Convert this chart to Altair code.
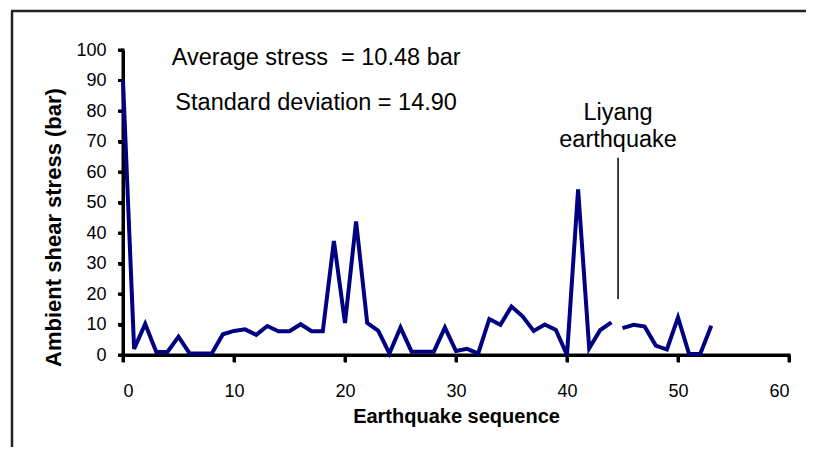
import altair as alt
import pandas as pd

# ---- data ----
sequence = list(range(54))
stress = [90, 2, 10.2, 1, 1, 6, 0.5, 0.5, 0.5, 6.8,
          7.9, 8.4, 6.6, 9.5, 7.8, 7.8, 10.1, 7.8, 7.8, 37.4,
          10.5, 43.8, 10.5, 7.9, 0.5, 9, 1.1, 1.1, 1.1, 9,
          1.3, 2, 0.5, 11.8, 9.9, 15.9, 12.7, 7.9, 10, 8.2,
          0, 54.3, 2.2, 8.2, 10.7, 8.8, 9.9, 9.3, 3.1, 1.8,
          12.3, 0.3, 0.3, 9.6]
segment = ["before" if s <= 44 else "after" for s in sequence]

x_ticks = [0, 10, 20, 30, 40, 50, 60]
y_ticks = [0, 10, 20, 30, 40, 50, 60, 70, 80, 90, 100]

stats_text = ["Average stress\u00a0\u00a0= 10.48 bar", "Standard deviation = 14.90"]
stats_x = [17.4, 17.4]
stats_y = [97.4, 82.6]

liyang_text = ["Liyang", "earthquake"]
liyang_tx = [44.6, 44.6]
liyang_ty = [79.5, 70.5]
liyang_line_x = [44.6]
liyang_line_y1 = [18.4]
liyang_line_y2 = [64.7]

FONT = "Liberation Sans"
W, H = 666, 305

df = pd.DataFrame({"seq": sequence, "stress": stress, "segment": segment})
df_stats = pd.DataFrame({"x": stats_x, "y": stats_y, "t": stats_text})
df_liy = pd.DataFrame({"x": liyang_tx, "y": liyang_ty, "t": liyang_text})
df_lline = pd.DataFrame({"x": liyang_line_x, "y1": liyang_line_y1, "y2": liyang_line_y2})
df_xt = pd.DataFrame({"x": x_ticks})
df_yt = pd.DataFrame({"y": y_ticks})

xscale = alt.Scale(domain=[0, 60], nice=False, zero=False)
yscale = alt.Scale(domain=[0, 100], nice=False)

xaxis = alt.Axis(values=x_ticks, title="Earthquake sequence", grid=False,
                 labelOverlap=False,
                 domainColor="black", domainWidth=3, tickColor="black", tickWidth=3,
                 tickSize=7, labelPadding=20, titlePadding=6, titleFontSize=20)
yaxis = alt.Axis(values=y_ticks, title="Ambient shear stress (bar)", grid=False,
                 labelOverlap=False,
                 domainColor="black", domainWidth=3, tickColor="black", tickWidth=3,
                 tickSize=5, labelPadding=12, titlePadding=10, titleY=177,
                 titleFontSize=22)


def X(field):
    return alt.X(field, scale=xscale, axis=xaxis)


def Y(field):
    return alt.Y(field, scale=yscale, axis=yaxis)


# axis lines and tick marks drawn explicitly from the tick lists
ydomain = alt.Chart(df_lline).mark_rule(color="black", strokeWidth=3, strokeCap="square").encode(
    x=alt.value(0), y=alt.value(0), y2=alt.value(H))
xdomain = alt.Chart(df_lline).mark_rule(color="black", strokeWidth=3, strokeCap="square").encode(
    x=alt.value(0), x2=alt.value(W), y=alt.value(H))
yticks = alt.Chart(df_yt).mark_rule(color="black", strokeWidth=3).encode(
    y=Y("y:Q"), x=alt.value(-5), x2=alt.value(0))
xticks = alt.Chart(df_xt).mark_rule(color="black", strokeWidth=3).encode(
    x=X("x:Q"), y=alt.value(H), y2=alt.value(H + 7))

line = alt.Chart(df).mark_line(color="#000080", strokeWidth=4, strokeJoin="miter").encode(
    x=X("seq:Q"),
    y=Y("stress:Q"),
    detail="segment:N",
)

stats = alt.Chart(df_stats).mark_text(font=FONT, fontSize=23.5, color="black",
                                      baseline="middle", align="center").encode(
    x=X("x:Q"), y=Y("y:Q"), text="t:N")

liy = alt.Chart(df_liy).mark_text(font=FONT, fontSize=23.5, color="black",
                                  baseline="middle", align="center").encode(
    x=X("x:Q"), y=Y("y:Q"), text="t:N")

lline = alt.Chart(df_lline).mark_rule(color="black", strokeWidth=1.5).encode(
    x=X("x:Q"), y=Y("y1:Q"), y2="y2:Q")

# outer frame (decorative border of the figure)
frame_left = alt.Chart(df_lline).mark_rule(color="#222222", strokeWidth=2.5).encode(
    x=alt.value(-111), y=alt.value(-39), y2=alt.value(420))
frame_top = alt.Chart(df_lline).mark_rule(color="#222222", strokeWidth=2.5).encode(
    x=alt.value(-112), x2=alt.value(720), y=alt.value(-39))

chart = alt.layer(ydomain, xdomain, yticks, xticks, line, lline, stats, liy,
                  frame_left, frame_top).properties(
    width=W, height=H,
    autosize=alt.AutoSizeParams(type="none"),
    padding={"left": 115, "top": 42, "right": 17, "bottom": 92},
    background="white",
).configure_view(strokeOpacity=0).configure_axis(
    labelFont=FONT, labelFontSize=18, labelColor="black",
    titleFont=FONT, titleFontWeight="bold", titleColor="black",
)

chart.save("out.html", embed_options={"renderer": "svg", "actions": False})
